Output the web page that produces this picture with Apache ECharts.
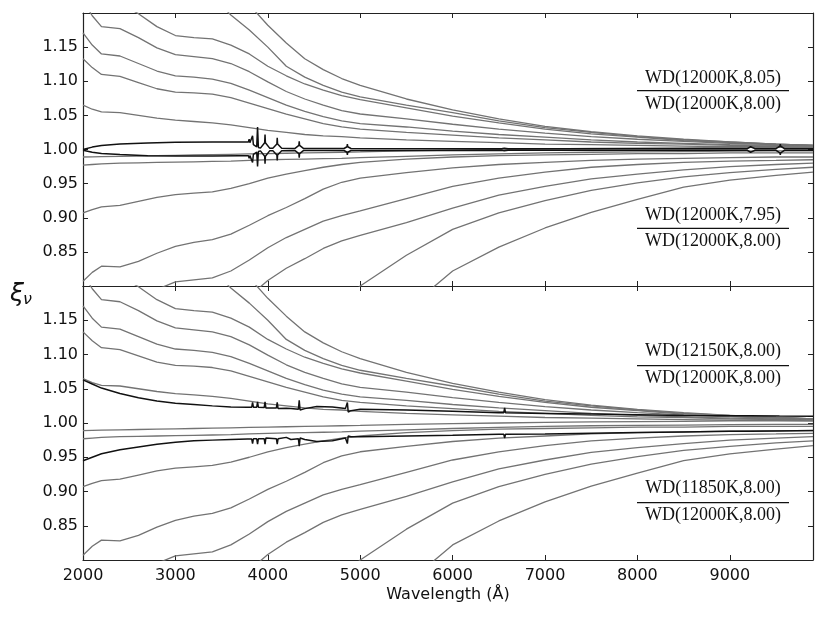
<!DOCTYPE html>
<html>
<head>
<meta charset="utf-8">
<script src="https://cdn.jsdelivr.net/npm/echarts@6/dist/echarts.min.js"></script>
<style>
html,body{margin:0;padding:0;background:#fff}
#main{width:830px;height:623px}
</style>
</head>
<body>
<div id="main"></div>
<script>
// wavelength grid shared by the grey model curves (Angstrom)
var waveGrid = [2000, 2100, 2200, 2400, 2600, 2800, 3000, 3200, 3400, 3600, 3800, 4000, 4200, 4400, 4600, 4800, 5000, 5500, 6000, 6500, 7000, 7500, 8000, 8500, 9000, 9500, 9900];

// grey curves above 1 (same in both panels), smallest to largest
var greyUp1 = [1.065, 1.059, 1.055, 1.054, 1.050, 1.046, 1.043, 1.041, 1.039, 1.036, 1.032, 1.028, 1.025, 1.022, 1.020, 1.019, 1.017, 1.014, 1.012, 1.010, 1.008, 1.007, 1.006, 1.005, 1.004, 1.004, 1.003];
var greyUp2 = [1.133, 1.120, 1.110, 1.107, 1.098, 1.089, 1.084, 1.083, 1.081, 1.076, 1.068, 1.060, 1.052, 1.045, 1.038, 1.033, 1.030, 1.025, 1.021, 1.017, 1.014, 1.011, 1.009, 1.008, 1.006, 1.005, 1.005];
var greyUp3 = [1.171, 1.153, 1.140, 1.137, 1.126, 1.115, 1.108, 1.106, 1.103, 1.097, 1.087, 1.076, 1.065, 1.056, 1.048, 1.042, 1.038, 1.033, 1.027, 1.022, 1.018, 1.014, 1.011, 1.009, 1.007, 1.006, 1.005];
var greyUp4 = [1.218, 1.196, 1.180, 1.177, 1.164, 1.149, 1.139, 1.136, 1.133, 1.126, 1.114, 1.099, 1.085, 1.074, 1.065, 1.057, 1.052, 1.045, 1.037, 1.030, 1.024, 1.019, 1.015, 1.012, 1.009, 1.007, 1.006];
var greyUp5 = [null, null, null, 1.214, 1.199, 1.180, 1.167, 1.164, 1.162, 1.153, 1.140, 1.122, 1.108, 1.096, 1.087, 1.079, 1.073, 1.061, 1.049, 1.039, 1.030, 1.023, 1.018, 1.013, 1.010, 1.008, 1.006];
var greyUp6 = [null, null, null, null, null, null, null, null, 1.225, 1.197, 1.175, 1.150, 1.122, 1.106, 1.094, 1.084, 1.077, 1.065, 1.054, 1.042, 1.032, 1.025, 1.019, 1.014, 1.011, 1.008, 1.006];
var greyUp7 = [null, null, null, null, null, null, null, null, null, null, 1.212, 1.182, 1.156, 1.133, 1.117, 1.104, 1.094, 1.074, 1.058, 1.045, 1.034, 1.026, 1.020, 1.015, 1.011, 1.008, 1.006];

// grey curves below 1
var greyLow1 = [0.989, 0.9893, 0.9896, 0.990, 0.9905, 0.991, 0.9915, 0.992, 0.9925, 0.993, 0.9935, 0.994, 0.9945, 0.995, 0.9955, 0.996, 0.9965, 0.998, 0.999, 1.000, 1.001, 1.0015, 1.002, 1.0025, 1.003, 1.003, 1.003];
var greyLow2 = [0.977, 0.978, 0.979, 0.980, 0.9805, 0.981, 0.9815, 0.982, 0.9825, 0.983, 0.984, 0.985, 0.9855, 0.986, 0.9865, 0.987, 0.988, 0.990, 0.992, 0.9935, 0.995, 0.996, 0.9965, 0.997, 0.9975, 0.998, 0.998];
var greyLow3 = [0.907, 0.912, 0.916, 0.918, 0.924, 0.930, 0.934, 0.936, 0.938, 0.943, 0.950, 0.958, 0.964, 0.969, 0.974, 0.978, 0.981, 0.986, 0.989, 0.991, 0.992, 0.993, 0.994, 0.994, 0.995, 0.995, 0.995];
var greyLow4 = [0.807, 0.820, 0.829, 0.828, 0.836, 0.848, 0.858, 0.864, 0.868, 0.876, 0.889, 0.903, 0.915, 0.928, 0.942, 0.952, 0.958, 0.966, 0.973, 0.978, 0.981, 0.984, 0.986, 0.987, 0.988, 0.989, 0.989];
var greyLow5 = [null, null, null, null, null, 0.795, 0.806, 0.809, 0.812, 0.822, 0.838, 0.856, 0.871, 0.883, 0.895, 0.903, 0.910, 0.928, 0.946, 0.958, 0.967, 0.974, 0.978, 0.981, 0.983, 0.984, 0.985];
var greyLow6 = [null, null, null, null, null, null, null, null, null, null, 0.785, 0.808, 0.826, 0.840, 0.855, 0.866, 0.874, 0.893, 0.914, 0.933, 0.946, 0.957, 0.964, 0.970, 0.975, 0.978, 0.980];
var greyLow7 = [null, null, null, null, null, null, null, null, null, null, null, null, null, null, null, 0.775, 0.800, 0.845, 0.883, 0.907, 0.925, 0.940, 0.951, 0.960, 0.966, 0.971, 0.974];
var greyLow8 = [null, null, null, null, null, null, null, null, null, null, null, null, null, null, null, null, null, 0.765, 0.822, 0.857, 0.885, 0.908, 0.927, 0.945, 0.955, 0.962, 0.967];

// top panel black curves: log g 8.05 and 7.95 over 8.00
var topBlackWave = [2000, 2100, 2200, 2400, 2700, 3000, 3400, 3700, 3790, 3798, 3806, 3826, 3835, 3844, 3880, 3889, 3898, 3920, 3966, 3970, 3974, 4020, 4055, 4098, 4102, 4106, 4150, 4295, 4336, 4340, 4344, 4385, 4825, 4857, 4861, 4865, 4900, 6530, 6559, 6563, 6567, 6600, 9190, 9225, 9229, 9233, 9270, 9500, 9542, 9546, 9550, 9590, 9900];
var ratioG805 = [1.000, 1.0035, 1.006, 1.008, 1.0095, 1.0105, 1.011, 1.011, 1.011, 1.015, 1.010, 1.009, 1.020, 1.007, 1.004, 1.033, 1.003, 1.002, 1.010, 1.022, 1.010, 1.002, 1.0018, 1.008, 1.017, 1.008, 1.0018, 1.0016, 1.006, 1.012, 1.006, 1.0016, 1.0015, 1.004, 1.008, 1.004, 1.0015, 1.0012, 1.002, 1.004, 1.002, 1.0012, 1.0012, 1.004, 1.006, 1.004, 1.0012, 1.0012, 1.005, 1.008, 1.005, 1.0012, 1.0012];
var ratioG795 = [0.999, 0.996, 0.994, 0.9925, 0.991, 0.9905, 0.9905, 0.991, 0.991, 0.987, 0.991, 0.992, 0.981, 0.993, 0.996, 0.975, 0.997, 0.998, 0.990, 0.979, 0.990, 0.998, 0.9982, 0.992, 0.984, 0.992, 0.9982, 0.9984, 0.994, 0.988, 0.994, 0.9984, 0.9985, 0.996, 0.992, 0.996, 0.9985, 0.9988, 0.998, 0.996, 0.998, 0.9988, 0.9988, 0.996, 0.994, 0.996, 0.9988, 0.9988, 0.995, 0.992, 0.995, 0.9988, 0.9988];

// bottom panel black curves: 12150 K and 11850 K over 12000 K
var botBlackWave = [2000, 2100, 2200, 2400, 2600, 2800, 3000, 3200, 3400, 3600, 3780, 3826, 3835, 3844, 3880, 3889, 3898, 3961, 3970, 3979, 4093, 4102, 4111, 4200, 4250, 4331, 4340, 4349, 4400, 4530, 4700, 4840, 4852, 4861, 4870, 4900, 5000, 5500, 6000, 6500, 6554, 6563, 6572, 7000, 7500, 8000, 8500, 9000, 9220, 9229, 9238, 9537, 9546, 9555, 9900];
var ratioT12150 = [1.063, 1.057, 1.051, 1.043, 1.037, 1.032, 1.029, 1.027, 1.025, 1.0235, 1.023, 1.023, 1.030, 1.023, 1.023, 1.031, 1.023, 1.0225, 1.031, 1.022, 1.022, 1.030, 1.021, 1.0215, 1.021, 1.020, 1.033, 1.019, 1.021, 1.024, 1.0235, 1.021, 1.019, 1.030, 1.016, 1.018, 1.020, 1.019, 1.017, 1.015, 1.015, 1.022, 1.015, 1.014, 1.013, 1.012, 1.011, 1.0105, 1.0105, 1.013, 1.0105, 1.0102, 1.013, 1.0102, 1.010];
var ratioT11850 = [0.945, 0.950, 0.955, 0.961, 0.965, 0.969, 0.972, 0.974, 0.975, 0.976, 0.9765, 0.9765, 0.970, 0.977, 0.977, 0.969, 0.977, 0.977, 0.969, 0.978, 0.977, 0.969, 0.977, 0.979, 0.976, 0.977, 0.966, 0.978, 0.976, 0.973, 0.974, 0.978, 0.9795, 0.970, 0.981, 0.980, 0.980, 0.981, 0.982, 0.9835, 0.9835, 0.978, 0.9835, 0.984, 0.985, 0.986, 0.987, 0.988, 0.988, 0.986, 0.988, 0.9885, 0.986, 0.9885, 0.989];

var greyCurves = [greyUp1, greyUp2, greyUp3, greyUp4, greyUp5, greyUp6, greyUp7,
                  greyLow1, greyLow2, greyLow3, greyLow4, greyLow5, greyLow6, greyLow7, greyLow8];

function pairs(xs, ys) {
    var out = [];
    for (var i = 0; i < xs.length; i++) {
        if (ys[i] !== null) out.push([xs[i], ys[i]]);
    }
    return out;
}

var frame = {color: '#222', width: 1.2};
var tickFont = {fontFamily: 'DejaVu Sans', fontSize: 16, color: '#111'};

function xAxisFor(grid, pos, withLabels) {
    return {
        type: 'value', gridIndex: grid, position: pos,
        min: 2000, max: 9900, interval: 1000,
        axisLine: {show: true, onZero: false, lineStyle: frame},
        axisTick: {show: true, inside: true, length: 5, lineStyle: {color: '#222'}},
        axisLabel: Object.assign({
            show: withLabels, margin: 8, showMaxLabel: false,
            formatter: function (v) { return String(v); }
        }, tickFont),
        splitLine: {show: false}
    };
}
function yAxisFor(grid, pos, withLabels) {
    return {
        type: 'value', gridIndex: grid, position: pos,
        min: 0.8, max: 1.2, interval: 0.05,
        axisLine: {show: true, onZero: false, lineStyle: frame},
        axisTick: {show: true, inside: true, length: 5, lineStyle: {color: '#222'}},
        axisLabel: Object.assign({
            show: withLabels, margin: 5, showMinLabel: false, showMaxLabel: false,
            formatter: function (v) { return v.toFixed(2); }
        }, tickFont),
        splitLine: {show: false}
    };
}

var xAxes = [xAxisFor(0, 'bottom', false), xAxisFor(0, 'top', false),
             xAxisFor(1, 'bottom', true), xAxisFor(1, 'top', false)];
xAxes[2].name = 'Wavelength (\u00c5)';
xAxes[2].nameLocation = 'middle';
xAxes[2].nameGap = 27;
xAxes[2].nameTextStyle = {fontFamily: 'DejaVu Sans', fontSize: 16, color: '#111'};

var yAxes = [yAxisFor(0, 'left', true), yAxisFor(0, 'right', false),
             yAxisFor(1, 'left', true), yAxisFor(1, 'right', false)];

var series = [];
[0, 2].forEach(function (ax) {
    greyCurves.forEach(function (c) {
        series.push({
            type: 'line', xAxisIndex: ax, yAxisIndex: ax,
            data: pairs(waveGrid, c), symbol: 'none', silent: true, z: 2,
            lineStyle: {color: '#737373', width: 1.3}
        });
    });
});
function blackLine(ax, xs, ys) {
    return {
        type: 'line', xAxisIndex: ax, yAxisIndex: ax,
        data: pairs(xs, ys), symbol: 'none', silent: true, z: 3,
        lineStyle: {color: '#111', width: 1.5}
    };
}
series.push(blackLine(0, topBlackWave, ratioG805));
series.push(blackLine(0, topBlackWave, ratioG795));
series.push(blackLine(2, botBlackWave, ratioT12150));
series.push(blackLine(2, botBlackWave, ratioT11850));

var serif = '18px "Liberation Serif"';
function fracText(txt, y) {
    return {type: 'text', x: 713, y: y, z: 10,
        style: {text: txt, font: serif, fill: '#111', align: 'center', verticalAlign: 'middle'}};
}
function fracBar(y) {
    return {type: 'line', z: 10, shape: {x1: 637, y1: y, x2: 789, y2: y},
        style: {stroke: '#111', lineWidth: 1.3}};
}

var graphics = [
    fracText('WD(12000K,8.05)', 78), fracBar(90.7), fracText('WD(12000K,8.00)', 104),
    fracText('WD(12000K,7.95)', 215), fracBar(228.3), fracText('WD(12000K,8.00)', 241),
    fracText('WD(12150K,8.00)', 351), fracBar(365.7), fracText('WD(12000K,8.00)', 378),
    fracText('WD(11850K,8.00)', 488), fracBar(502.7), fracText('WD(12000K,8.00)', 515),
    {type: 'text', x: 10, y: 282, style: {text: '\u03be', font: 'italic 25px "DejaVu Sans"', fill: '#111'}},
    {type: 'text', x: 23, y: 292, style: {text: '\u03bd', font: 'italic 16px "DejaVu Sans"', fill: '#111'}}
];

var myChart = echarts.init(document.getElementById('main'));
myChart.setOption({
    animation: false,
    backgroundColor: '#fff',
    grid: [
        {left: 83, top: 13, width: 730, height: 273},
        {left: 83, top: 286, width: 730, height: 274}
    ],
    xAxis: xAxes,
    yAxis: yAxes,
    series: series,
    graphic: graphics
});
</script>
</body>
</html>
